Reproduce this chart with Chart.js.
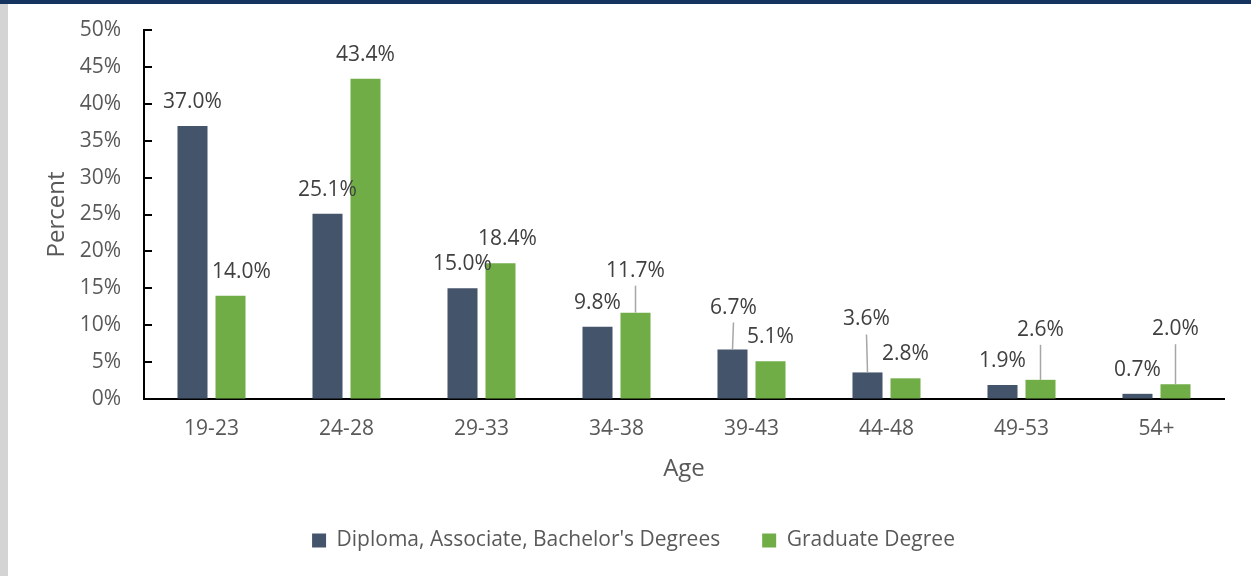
<!DOCTYPE html>
<html>
<head>
<meta charset="utf-8">
<script src="https://cdn.jsdelivr.net/npm/chart.js"></script>
<style>
  body { margin: 0; background: #fff; }
  #wrap { position: relative; width: 1251px; height: 576px; overflow: hidden; }
  #topBar { position: absolute; left: 0; top: 0; width: 1251px; height: 4px; background: #14345f; }
  #leftBar { position: absolute; left: 0; top: 4px; width: 8px; height: 572px; background: #d4d4d4; }
</style>
</head>
<body>
<div id="wrap">
  <canvas id="ageChart" width="1251" height="576"></canvas>
  <div id="topBar"></div>
  <div id="leftBar"></div>
</div>
<script>
// data
const ageGroups = ["19-23", "24-28", "29-33", "34-38", "39-43", "44-48", "49-53", "54+"];
const bachelorValues = [37.0, 25.1, 15.0, 9.8, 6.7, 3.6, 1.9, 0.7];
const graduateValues = [14.0, 43.4, 18.4, 11.7, 5.1, 2.8, 2.6, 2.0];
const seriesNames = ["Diploma, Associate, Bachelor's Degrees", "Graduate Degree"];
const yTicks = [0, 5, 10, 15, 20, 25, 30, 35, 40, 45, 50];

// label nudges (px) and leader line flags, per dataset
const labelShift = [
  [[0,0],[0,0],[0,0],[0,0],[1,-18],[-1,-29],[0,0],[0,0]],
  [[11,0],[0,0],[7,0],[0,-18],[0,0],[0,0],[0,-26],[0,-31]]
];
const leaders = [
  [false,false,false,false,true,true,false,false],
  [false,false,false,true,false,false,true,true]
];

const FONT = "'Open Sans', 'DejaVu Sans', sans-serif";
const LEGEND_H = 88;
const PAD_LEFT = 43;

const labelPlugin = {
  id: 'barLabels',
  afterInit(chart) {
    // keep the wide item spacing but not the tall legend box
    const lg = chart.legend;
    const fit = lg.fit;
    lg.fit = function () { fit.call(this); this.height = LEGEND_H; };
  },
  afterDatasetsDraw(chart) {
    const ctx = chart.ctx;
    ctx.save();
    ctx.font = "21px " + FONT;
    ctx.textAlign = 'center';
    ctx.textBaseline = 'middle';
    chart.data.datasets.forEach((ds, di) => {
      const meta = chart.getDatasetMeta(di);
      meta.data.forEach((bar, i) => {
        const lx = bar.x + labelShift[di][i][0];
        const ly = bar.y - 24 + labelShift[di][i][1];
        if (leaders[di][i]) {
          ctx.strokeStyle = '#a6a6a6';
          ctx.lineWidth = 1.5;
          ctx.beginPath();
          ctx.moveTo(lx, ly + 15);
          ctx.lineTo(bar.x, bar.y);
          ctx.stroke();
        }
        ctx.fillStyle = '#404040';
        ctx.fillText(ds.data[i].toFixed(1) + '%', lx, ly);
      });
    });
    ctx.restore();
  },
  afterDraw(chart) {
    // inside tick marks on the y axis
    const y = chart.scales.y;
    const ctx = chart.ctx;
    ctx.save();
    ctx.strokeStyle = '#000';
    ctx.lineWidth = 2;
    yTicks.forEach(v => {
      const py = Math.round(y.getPixelForValue(v));
      ctx.beginPath();
      ctx.moveTo(y.right, py);
      ctx.lineTo(y.right + 8, py);
      ctx.stroke();
    });
    ctx.restore();
  }
};

new Chart(document.getElementById('ageChart'), {
  type: 'bar',
  data: {
    labels: ageGroups,
    datasets: [
      { label: seriesNames[0], data: bachelorValues, backgroundColor: '#44546a' },
      { label: seriesNames[1], data: graduateValues, backgroundColor: '#70ad47' }
    ]
  },
  options: {
    responsive: false,
    animation: false,
    devicePixelRatio: 1,
    categoryPercentage: 0.563,
    barPercentage: 0.79,
    layout: { padding: { left: PAD_LEFT, right: 27, top: 30, bottom: 0 } },
    plugins: {
      tooltip: { enabled: false },
      legend: {
        position: 'bottom',
        labels: {
          boxWidth: 14,
          boxHeight: 14,
          padding: 42,
          color: '#595959',
          font: { family: FONT, size: 21 }
        }
      }
    },
    scales: {
      x: {
        grid: { display: false, drawTicks: false },
        border: { display: true, color: '#000', width: 2 },
        ticks: { color: '#595959', padding: 17, font: { family: FONT, size: 21 } },
        title: { display: true, text: 'Age', color: '#595959', padding: { top: 0, bottom: 4 }, font: { family: FONT, size: 24 } },
        afterFit(s) { s.height = s.chart.height - LEGEND_H - 399; }
      },
      y: {
        min: 0,
        max: 50,
        ticks: {
          stepSize: 5,
          color: '#595959',
          padding: 0,
          font: { family: FONT, size: 21 },
          callback: v => v + '%'
        },
        grid: { display: true, drawOnChartArea: false, drawTicks: true, tickLength: 23, tickColor: 'rgba(0,0,0,0)' },
        border: { display: true, color: '#000', width: 2 },
        title: { display: true, text: 'Percent', color: '#595959', padding: 0, font: { family: FONT, size: 24 } },
        afterFit(s) { s.width = 144 - PAD_LEFT; }
      }
    }
  },
  plugins: [labelPlugin]
});
</script>
</body>
</html>
